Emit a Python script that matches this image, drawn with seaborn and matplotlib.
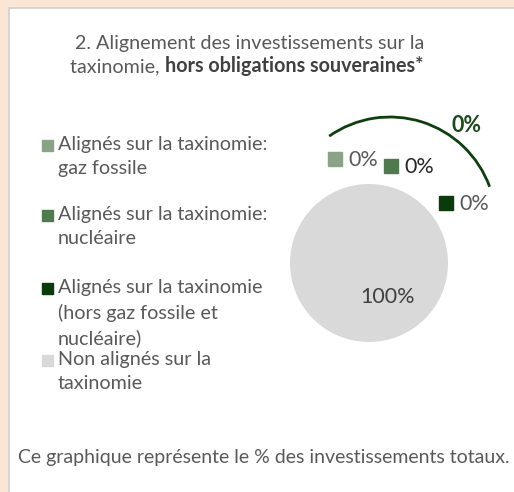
import seaborn as sns
import matplotlib
matplotlib.use("Agg")
import matplotlib.pyplot as plt
from matplotlib.patches import Rectangle, Arc

# Data
categories = [
    "Alignés sur la taxinomie:\ngaz fossile",
    "Alignés sur la taxinomie:\nnucléaire",
    "Alignés sur la taxinomie\n(hors gaz fossile et\nnucléaire)",
    "Non alignés sur la\ntaxinomie",
]
values = [0, 0, 0, 100]
colors = ["#8aa386", "#4f7a50", "#0b3a0b", "#d9d9d9"]
aligned_total = sum(values[:3])

sns.set_style("white")
plt.rcParams["font.family"] = ["Lato", "DejaVu Sans"]

W, H = 514, 492
FS = 14.2
fig = plt.figure(figsize=(W / 100, H / 100), dpi=100)

# Background layer in pixel coordinates
bg = fig.add_axes([0, 0, 1, 1])
bg.set_xlim(0, W)
bg.set_ylim(H, 0)
bg.axis("off")
bg.add_patch(Rectangle((0, 0), W, H, color="#fbe6d6", zorder=0))
bg.add_patch(Rectangle((9, 8), W, H, facecolor="white", edgecolor="#d0d0d0", lw=1.2, zorder=1))

# Title
grey = "#595959"
bg.text(250, 43, "2. Alignement des investissements sur la", ha="center", va="center",
        fontsize=FS, color=grey, zorder=3)
t1 = bg.text(0, 67, "taxinomie, ", ha="left", va="center", fontsize=FS, color=grey, zorder=3)
t2 = bg.annotate("hors obligations souveraines*", xy=(1, 0), xycoords=t1, va="bottom", ha="left",
                 fontsize=FS, fontweight="bold", color="#404040", zorder=3)
fig.canvas.draw()
r = fig.canvas.get_renderer()
w1 = t1.get_window_extent(r).width
w2 = t2.get_window_extent(r).width
t1.set_x(247 - (w1 + w2) / 2)

# Legend (manual, Excel style)
legend_y = [145, 215, 288, 360]
for lab, col, y in zip(categories, colors, legend_y):
    bg.add_patch(Rectangle((42, y - 5), 10.5, 10.5, color=col, zorder=3))
    bg.text(58, y - 9, lab, ha="left", va="top", fontsize=FS, color=grey,
            linespacing=1.5, zorder=3)

# Footer
bg.text(18, 457, "Ce graphique représente le % des investissements totaux.", ha="left",
        va="center", fontsize=14.05, color=grey, zorder=3)

# Pie
cx, cy, rad = 369, 263, 79
pie_ax = fig.add_axes([(cx - rad) / W, (H - cy - rad) / H, 2 * rad / W, 2 * rad / H])
pie_ax.pie(values, colors=colors, startangle=90, counterclock=False, radius=1,
           wedgeprops=dict(linewidth=0))
pie_ax.set_xlim(-1, 1)
pie_ax.set_ylim(-1, 1)
pie_ax.axis("off")
pie_ax.text(0.23, -0.43, f"{values[3]}%", ha="center", va="center", fontsize=15.5, color="#404040")

# Data labels for the zero slices
label_pos = [(328, 159, grey), (384, 166, "#262626"), (439, 203, grey)]
for v, col, (x, y, tc) in zip(values[:3], colors[:3], label_pos):
    bg.add_patch(Rectangle((x, y - 7), 14, 14, color=col, zorder=3))
    bg.text(x + 20, y + 1, f"{v}%", ha="left", va="center", fontsize=15.5, color=tc, zorder=3)

# Arc around the aligned share
bg.add_patch(Arc((390, 223), 212, 212, theta1=235, theta2=340, color="#0f3f0f", lw=2, zorder=3))
bg.text(467, 125, f"{aligned_total}%", ha="center", va="center", fontsize=15.5,
        fontweight="bold", color="#1a4a1a", zorder=3)

fig.savefig("out.png", dpi=100)
